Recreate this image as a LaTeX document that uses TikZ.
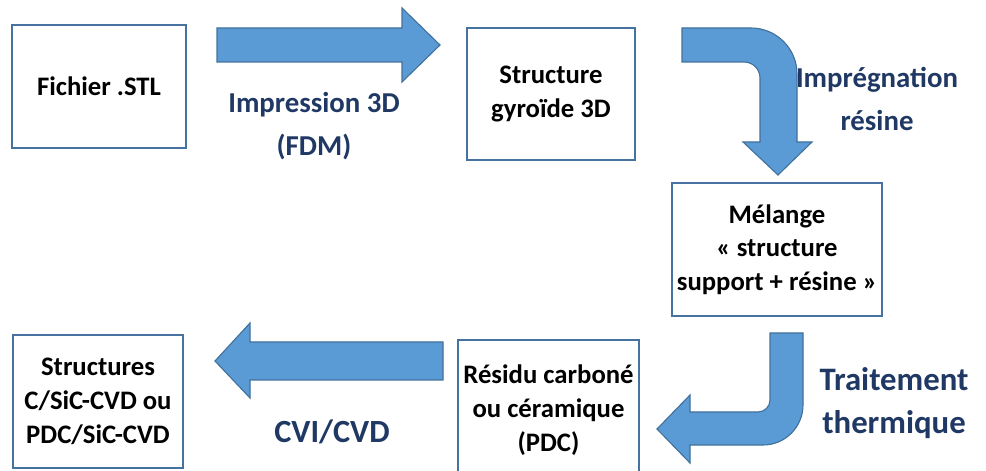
\documentclass[tikz,border=0pt]{standalone}
\usepackage{fontspec}
\setmainfont{Carlito}
\usetikzlibrary{positioning}
\definecolor{frame}{RGB}{70,114,160}
\definecolor{arrowfill}{RGB}{91,155,213}
\definecolor{arrowline}{RGB}{65,113,156}
\definecolor{navy}{RGB}{31,56,100}
\tikzset{
  box/.style={draw=frame,line width=1.5pt,fill=white,align=center,
    font=\fontsize{19}{24}\selectfont\bfseries,text=black,inner sep=2pt},
  steplabel/.style={text=navy,align=center,font=\fontsize{#1}{30}\selectfont\bfseries},
  steplabel/.default=20.5,
  bigarrow/.style={fill=arrowfill,draw=arrowline,line width=0.8pt,line join=miter},
}
\begin{document}
\begin{tikzpicture}[x=0.025cm,y=-0.025cm]
  \useasboundingbox (0,0) rectangle (986,471);
  % boxes
  \node[box,minimum width=174*0.025cm,minimum height=123*0.025cm] (stl) at (99,86.5) {Fichier .STL};
  \node[box,minimum width=168*0.025cm,minimum height=132*0.025cm] (gyro) at (551,94) {Structure\\gyroïde 3D};
  \node[box,minimum width=210*0.025cm,minimum height=133*0.025cm] (melange) at (777,249.5) {Mélange\\« structure\\support + résine »};
  \node[box,minimum width=181*0.025cm,minimum height=140*0.025cm] (residu) at (548.5,410) {Résidu carboné\\ou céramique\\(PDC)};
  \node[box,minimum width=170*0.025cm,minimum height=133*0.025cm] (final) at (98,401.5) {Structures\\C/SiC-CVD ou\\PDC/SiC-CVD};
  % arrows
  \draw[bigarrow] (217,28) -- (402,28) -- (402,8) -- (440,45) -- (402,82) -- (402,62) -- (217,62) -- cycle;
  \draw[bigarrow] (682,28) [rounded corners=1.15cm] -- (797,28) [sharp corners] -- (797,142) -- (812,142)
    -- (778,175) -- (743,142) -- (760,142) [rounded corners=0.4cm] -- (760,62) [sharp corners] -- (682,62) -- cycle;
  \draw[bigarrow] (770,333) -- (803,333) [rounded corners=1cm] -- (803,445) [sharp corners] -- (690,445)
    -- (690,463) -- (657,429) -- (690,395) -- (690,412) [rounded corners=0.3cm] -- (770,412) [sharp corners] -- cycle;
  \draw[bigarrow] (443,342) -- (250,342) -- (250,323) -- (215,361) -- (250,398) -- (250,380) -- (443,380) -- cycle;
  % labels
  \node[steplabel] (impr) at (314,126) {Impression 3D\\(FDM)};
  \node[steplabel] (resine) at (877,99) {Imprégnation\\résine};
  \node[steplabel=23.3] (traite) at (894,403) {Traitement\\thermique};
  \node[steplabel=23] (cvi) at (332,432) {CVI/CVD};
\end{tikzpicture}
\end{document}
